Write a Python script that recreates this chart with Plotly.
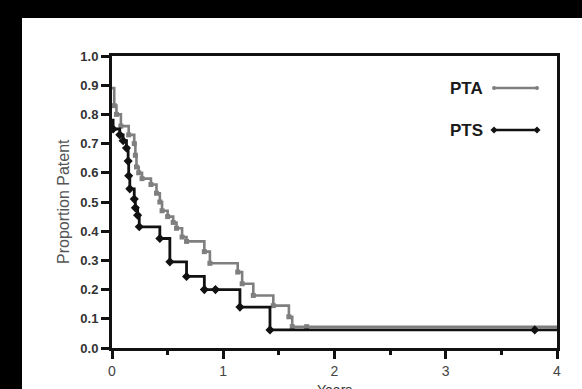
import plotly.graph_objects as go

# ---- data ----
pta_years = [0, 0.02, 0.04, 0.08, 0.15, 0.20, 0.21, 0.22, 0.24, 0.27, 0.35, 0.40, 0.43,
             0.45, 0.50, 0.55, 0.58, 0.63, 0.67, 0.83, 0.88, 1.13, 1.17, 1.27, 1.45,
             1.59, 1.62, 1.75, 4.0]
pta_prop = [0.89, 0.83, 0.80, 0.76, 0.73, 0.70, 0.66, 0.62, 0.60, 0.58, 0.56, 0.53, 0.50,
            0.47, 0.45, 0.43, 0.41, 0.38, 0.365, 0.33, 0.29, 0.26, 0.22, 0.18, 0.145,
            0.107, 0.073, 0.073, 0.073]

pts_years = [0, 0.01, 0.07, 0.10, 0.13, 0.145, 0.15, 0.16, 0.20, 0.21, 0.23, 0.245,
             0.43, 0.52, 0.67, 0.83, 0.93, 1.15, 1.42, 3.8, 4.0]
pts_prop = [0.78, 0.75, 0.73, 0.71, 0.685, 0.64, 0.59, 0.545, 0.51, 0.48, 0.455, 0.415,
            0.375, 0.295, 0.245, 0.20, 0.20, 0.14, 0.062, 0.062, 0.062]

y_ticks = [0.0, 0.1, 0.2, 0.3, 0.4, 0.5, 0.6, 0.7, 0.8, 0.9, 1.0]
x_ticks = [0, 1, 2, 3, 4]

GRAY = "#7f7f7f"
BLACK = "#111111"
FONT = "Liberation Sans, Arial"

W, H = 582, 389
L, R, T, B = 112, 25, 56, 41
PW, PH = W - L - R, H - T - B


def px(x):
    return (x - L) / PW


def py(y):
    return (H - B - y) / PH


fig = go.Figure()

fig.add_trace(go.Scatter(x=pta_years, y=pta_prop, mode="lines", line_shape="hv",
                         line=dict(color=GRAY, width=2.6), name="PTA", showlegend=False))
fig.add_trace(go.Scatter(x=pta_years[1:-1], y=pta_prop[1:-1], mode="markers",
                         marker=dict(color=GRAY, size=5, symbol="square"),
                         showlegend=False))
fig.add_trace(go.Scatter(x=pts_years, y=pts_prop, mode="lines", line_shape="hv",
                         line=dict(color=BLACK, width=2.8), name="PTS", showlegend=False))
fig.add_trace(go.Scatter(x=pts_years[1:-1], y=pts_prop[1:-1], mode="markers",
                         marker=dict(color=BLACK, size=7, symbol="diamond"),
                         showlegend=False))

shapes = [
    # white page area on the black background
    dict(type="rect", xref="paper", yref="paper", x0=px(22), x1=px(600),
         y0=py(400), y1=py(18), fillcolor="white", line=dict(width=0), layer="below"),
    # legend samples
    dict(type="line", xref="paper", yref="paper", x0=px(494), x1=px(537),
         y0=py(88), y1=py(88), line=dict(color=GRAY, width=2.5)),
    dict(type="line", xref="paper", yref="paper", x0=px(494), x1=px(537),
         y0=py(130), y1=py(130), line=dict(color=BLACK, width=2.5)),
]
for cx in (494, 537):
    shapes.append(dict(type="circle", xref="paper", yref="paper",
                       x0=px(cx - 2), x1=px(cx + 2), y0=py(90), y1=py(86),
                       fillcolor=GRAY, line=dict(width=0)))
    d = 3.5
    shapes.append(dict(type="path", xref="paper", yref="paper",
                       path=f"M {px(cx-d)} {py(130)} L {px(cx)} {py(130-d)} L {px(cx+d)} {py(130)} L {px(cx)} {py(130+d)} Z",
                       fillcolor=BLACK, line=dict(width=0)))

annotations = [
    dict(text="<b>PTA</b>", xref="paper", yref="paper", x=px(485), y=py(88),
         xanchor="right", yanchor="middle", showarrow=False,
         font=dict(family=FONT, size=17, color="#1a1a1a")),
    dict(text="<b>PTS</b>", xref="paper", yref="paper", x=px(485), y=py(130),
         xanchor="right", yanchor="middle", showarrow=False,
         font=dict(family=FONT, size=17, color="#1a1a1a")),
    dict(text="Proportion Patent", xref="paper", yref="paper", x=px(63), y=py(202),
         xanchor="center", yanchor="middle", textangle=-90, showarrow=False,
         font=dict(family=FONT, size=16, color="#555555")),
    dict(text="Years", xref="paper", yref="paper", x=px(334), y=py(380),
         xanchor="center", yanchor="top", showarrow=False,
         font=dict(family=FONT, size=14, color="#333333")),
]

fig.update_layout(
    width=W, height=H,
    margin=dict(l=L, r=R, t=T, b=B, pad=0),
    paper_bgcolor="black", plot_bgcolor="white",
    shapes=shapes, annotations=annotations,
    showlegend=False,
)

fig.update_xaxes(range=[0, 4], tickvals=x_ticks, ticktext=[str(v) for v in x_ticks],
                 showgrid=False, zeroline=False, showline=True, linewidth=3,
                 linecolor=BLACK, mirror=True, ticks="outside", ticklen=8, tickwidth=2.5,
                 tickcolor=BLACK, automargin=False,
                 minor=dict(dtick=0.5, ticks="outside", ticklen=4, tickwidth=2.5,
                            tickcolor=BLACK, showgrid=False),
                 tickfont=dict(family=FONT, size=14, color="#444444"))
fig.update_yaxes(range=[0, 1], tickvals=y_ticks, ticktext=[f"{v:.1f}" for v in y_ticks],
                 showgrid=False, zeroline=False, showline=True, linewidth=3,
                 linecolor=BLACK, mirror=True, ticks="outside", ticklen=8, tickwidth=2.5,
                 tickcolor=BLACK, automargin=False,
                 tickfont=dict(family=FONT, size=13, color="#333333", weight="bold"))

fig.write_html("out.html", config={"displayModeBar": False},
               post_script="document.body.style.margin='0';document.body.style.overflow='hidden';")
